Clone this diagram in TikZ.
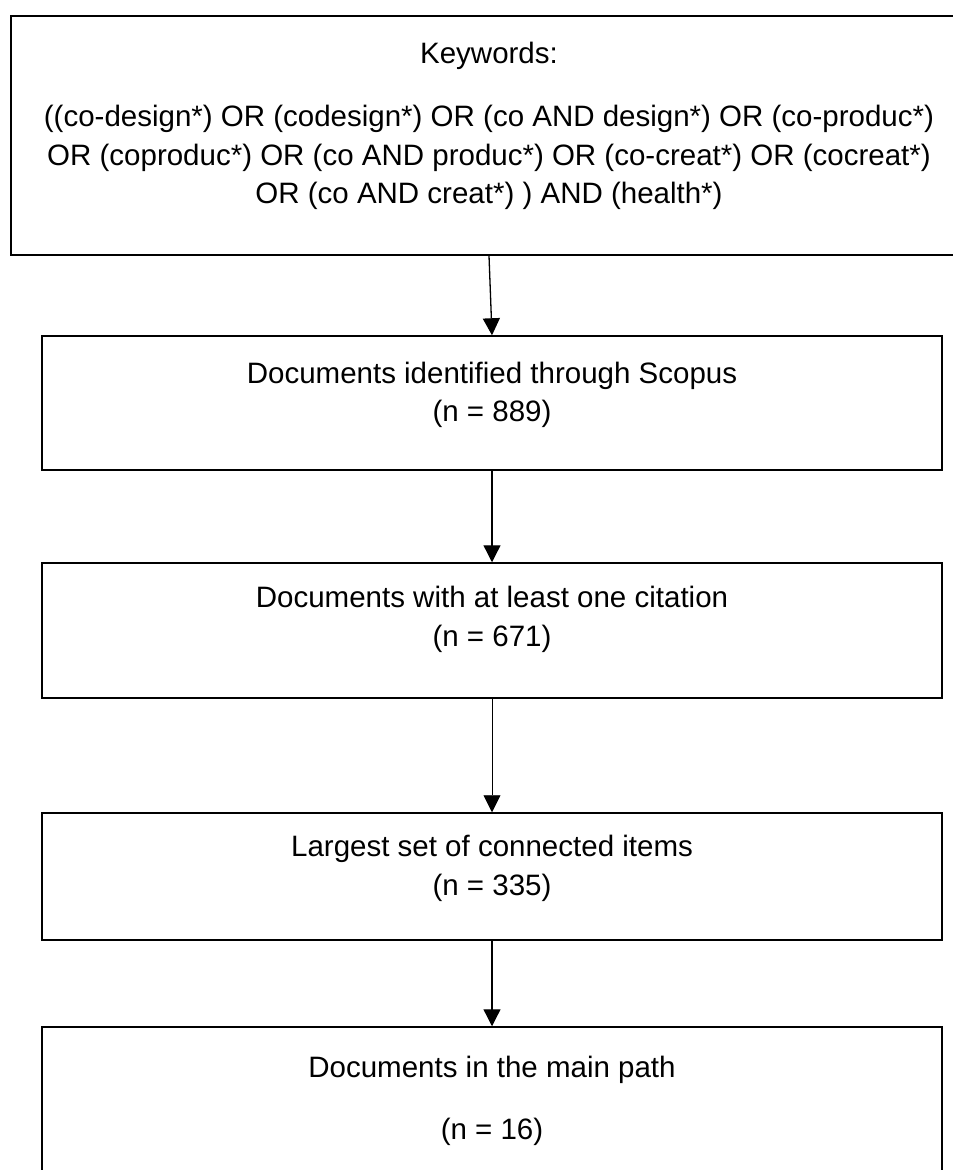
\documentclass[tikz,border=0pt]{standalone}
\usepackage{fontspec}
\setmainfont{Liberation Sans}
\usetikzlibrary{positioning,arrows.meta}

\begin{document}
\begin{tikzpicture}[x=1pt, y=-1pt,
    box/.style={draw, line width=1.5pt, minimum width=900pt, inner sep=0pt},
    txt/.style={align=center, anchor=north, inner sep=0pt, font=\fontsize{29.5}{38.5}\selectfont},
    arrow/.style={-{Triangle[length=17pt, width=17pt]}, line width=1.3pt}
]
    \useasboundingbox (0,0) rectangle (953,1170);

    \node[box, minimum width=956pt, minimum height=239pt] (kw) at (489,135.5) {};
    \node[box, minimum height=134pt] (scopus) at (492,403) {};
    \node[box, minimum height=135pt] (cited) at (492,630.5) {};
    \node[box, minimum height=127pt] (connected) at (492,876.5) {};
    \node[box, minimum height=170pt] (mainpath) at (492,1112) {};

    \node[txt] (kwtext) at (489,41.5) {Keywords:\\[25pt]
        ((co-design*) OR (codesign*) OR (co AND design*) OR (co-produc*)\\
        OR (coproduc*) OR (co AND produc*) OR (co-creat*) OR (cocreat*)\\
        OR (co AND creat*) ) AND (health*)};
    \node[txt] (scopustext) at (492,361.5) {Documents identified through Scopus\\(n = 889)};
    \node[txt] (citedtext) at (492,586) {Documents with at least one citation\\(n = 671)};
    \node[txt] (connectedtext) at (492,835) {Largest set of connected items\\(n = 335)};
    \node[txt] (mainpathtext) at (492,1055.5) {Documents in the main path\\[24pt](n = 16)};

    \draw[arrow] (kw.south) -- (scopus.north);
    \draw[arrow] (scopus.south) -- (cited.north);
    \draw[arrow, line width=0.9pt] (cited.south) -- (connected.north);
    \draw[arrow] (connected.south) -- (mainpath.north);
\end{tikzpicture}
\end{document}
